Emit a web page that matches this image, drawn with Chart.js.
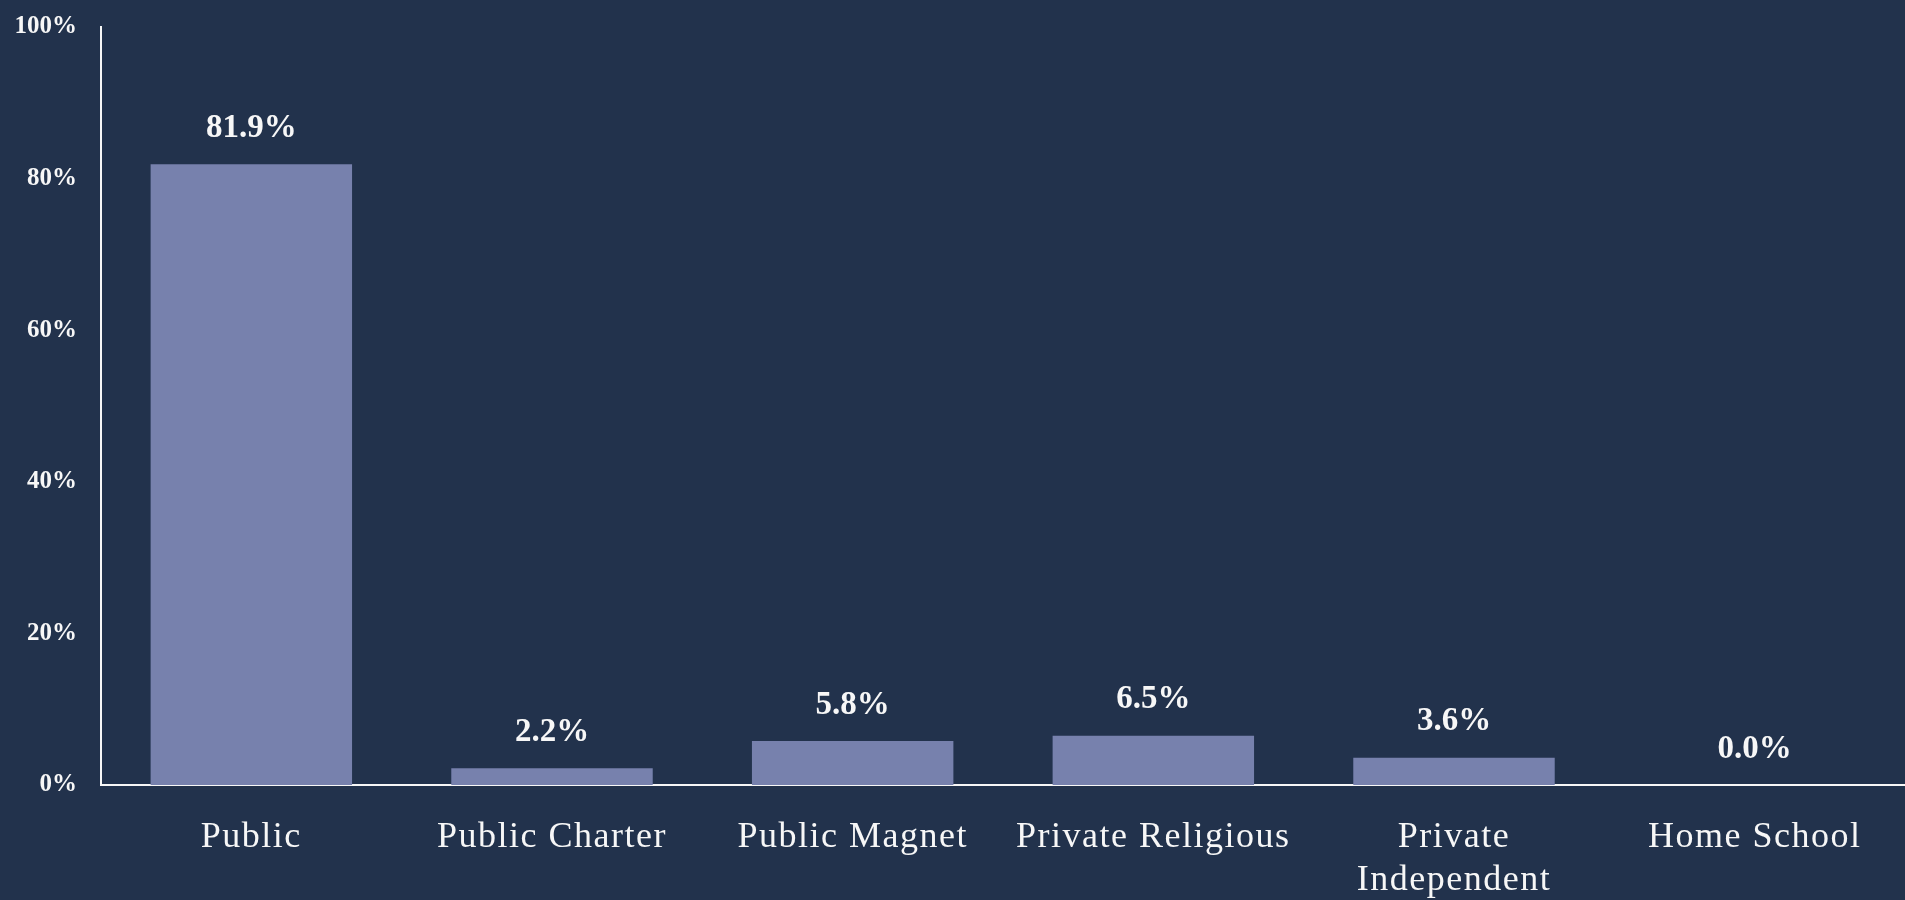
<!DOCTYPE html>
<html>
<head>
<meta charset="utf-8">
<script src="https://cdn.jsdelivr.net/npm/chart.js@4"></script>
<style>
  html, body { margin: 0; padding: 0; background: #22324c; }
  #wrap { width: 1905px; height: 900px; }
</style>
</head>
<body>
<div id="wrap"><canvas id="schools"></canvas></div>
<script>
const categories = ['Public', 'Public Charter', 'Public Magnet', 'Private Religious', ['Private', 'Independent'], 'Home School'];
const shares = [81.9, 2.2, 5.8, 6.5, 3.6, 0.0];
const yTicks = [0, 20, 40, 60, 80, 100];

const FONT = '"Liberation Serif", "DejaVu Serif", serif';
const TEXT = '#f7f7f7';

// value labels above bars + letter spacing for the category labels
const barLabels = {
    id: 'barLabels',
    beforeDraw(chart) {
        chart.ctx.letterSpacing = '1.5px';
    },
    afterDatasetsDraw(chart) {
        const ctx = chart.ctx;
        ctx.save();
        ctx.letterSpacing = '0px';
        ctx.font = `bold 33px ${FONT}`;
        ctx.fillStyle = TEXT;
        ctx.textAlign = 'center';
        ctx.textBaseline = 'middle';
        chart.getDatasetMeta(0).data.forEach((bar, i) => {
            ctx.fillText(shares[i].toFixed(1) + '%', bar.x, bar.y - 36);
        });
        ctx.restore();
        ctx.letterSpacing = '0px';
    },
};

new Chart(document.getElementById('schools'), {
    type: 'bar',
    data: {
        labels: categories,
        datasets: [{
            data: shares,
            backgroundColor: '#7781ad',
            borderWidth: 0,
            barPercentage: 0.67,
            categoryPercentage: 1,
        }],
    },
    options: {
        responsive: true,
        maintainAspectRatio: false,
        animation: false,
        layout: { padding: { top: 27, left: 0, right: 0, bottom: 0 } },
        plugins: {
            legend: { display: false },
            tooltip: { enabled: false },
        },
        scales: {
            x: {
                grid: { display: false, drawTicks: false },
                border: { color: TEXT, width: 2 },
                ticks: {
                    z: 0,
                    color: TEXT,
                    padding: 31,
                    maxRotation: 0,
                    autoSkip: false,
                    font: { family: FONT, size: 36, lineHeight: 1.2 },
                },
                afterFit: (scale) => { scale.height = 115; },
            },
            y: {
                min: 0,
                max: 100,
                grid: { display: false, drawTicks: false },
                border: { color: TEXT, width: 2 },
                afterBuildTicks: (scale) => { scale.ticks = yTicks.map((v) => ({ value: v })); },
                ticks: {
                    z: 1,
                    color: TEXT,
                    padding: 24,
                    font: { family: FONT, size: 25, weight: 'bold' },
                    callback: (v) => v + '%',
                },
                afterFit: (scale) => {
                    scale.width = 101;
                    scale.paddingTop = 0;
                    scale.paddingBottom = 0;
                },
            },
        },
    },
    plugins: [barLabels],
});
</script>
</body>
</html>
